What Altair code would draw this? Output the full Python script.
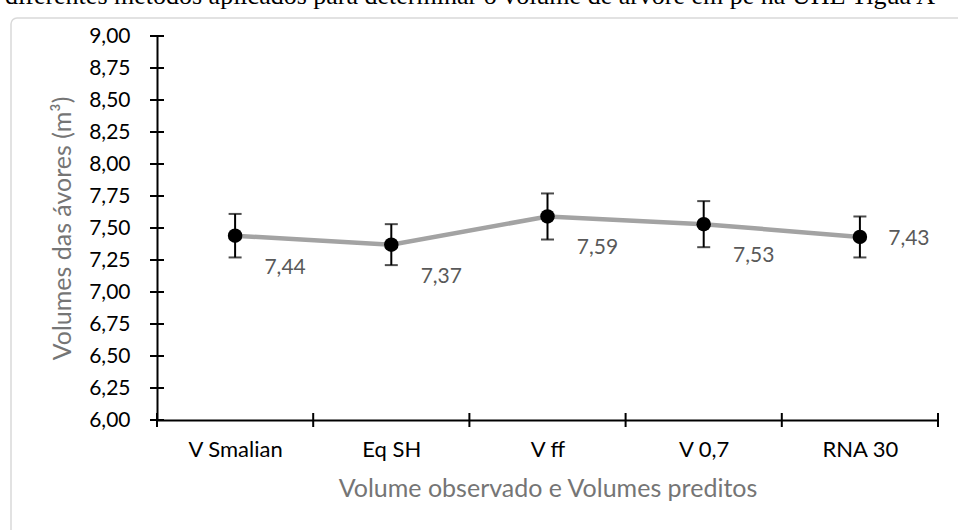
import altair as alt
import pandas as pd

categories = ["V Smalian", "Eq SH", "V ff", "V 0,7", "RNA 30"]
means = [7.44, 7.37, 7.59, 7.53, 7.43]
errors = [0.17, 0.16, 0.18, 0.18, 0.16]
labels = ["7,44", "7,37", "7,59", "7,53", "7,43"]
y_ticks = [6.0, 6.25, 6.5, 6.75, 7.0, 7.25, 7.5, 7.75, 8.0, 8.25, 8.5, 8.75, 9.0]
x_edges = [0, 1, 2, 3, 4, 5]
caption = "diferentes métodos aplicados para determinar o volume de árvore em pé na UHE Tiguá A"

W, H = 781, 384
TOP, LEFT = 36, 157
FONT = "Lato"

df = pd.DataFrame({
    "cat": categories,
    "pos": [i + 0.5 for i in range(len(categories))],
    "mean": means,
    "err": errors,
    "label": labels,
})
df["lo"] = df["mean"] - df["err"]
df["hi"] = df["mean"] + df["err"]

label_arr = "[" + ",".join("'" + c + "'" for c in categories) + "]"

xscale = alt.Scale(domain=[0, 5], nice=False, zero=False)
yscale = alt.Scale(domain=[6, 9], nice=False, zero=False)

xaxis = alt.Axis(
    values=[i + 0.5 for i in range(len(categories))],
    labelExpr=label_arr + "[floor(datum.value)]",
    labelOverlap=False,
    ticks=False, tickSize=0, grid=False, zindex=1,
    domainColor="black", domainWidth=2,
    labelFont=FONT, labelFontSize=22, labelColor="black", labelPadding=19,
    title="Volume observado e Volumes preditos",
    titleFont=FONT, titleFontSize=25, titleFontWeight="normal", titleColor="#757575",
    titlePadding=16,
)
yaxis = alt.Axis(
    values=y_ticks,
    labelExpr="replace(format(datum.value, '.2f'), '.', ',')",
    labelOverlap=False,
    ticks=False, tickSize=0, grid=False, zindex=1,
    domainColor="black", domainWidth=2,
    labelFont=FONT, labelFontSize=21, labelColor="black", labelPadding=27,
    title="Volumes das ávores (m³)",
    titleFont=FONT, titleFontSize=25, titleFontWeight="normal", titleColor="#757575",
    titlePadding=13,
)

X = lambda f: alt.X(f, scale=xscale, axis=xaxis)
Y = lambda f: alt.Y(f, scale=yscale, axis=yaxis)

base = alt.Chart(df)

frame = alt.Chart(pd.DataFrame({"a": [0]})).mark_rect(
    fill="white", stroke="#d9d9d9", strokeWidth=1.5, cornerRadius=6
).encode(
    x=alt.value(11 - LEFT), x2=alt.value(W + 40),
    y=alt.value(18 - TOP), y2=alt.value(H + 150),
)

top_text = alt.Chart(pd.DataFrame({"t": [caption]})).mark_text(
    font="Liberation Serif", fontSize=26, align="left", baseline="alphabetic", color="black"
).encode(
    x=alt.value(5 - LEFT), y=alt.value(4 - TOP), text="t:N"
)

line = base.mark_line(color="#a3a3a3", strokeWidth=4.5).encode(
    x=X("pos:Q"), y=Y("mean:Q")
)

err = base.mark_rule(color="black", strokeWidth=2).encode(
    x=X("pos:Q"), y=Y("lo:Q"), y2="hi:Q"
)
cap_lo = base.mark_tick(color="black", thickness=2, size=13, orient="horizontal").encode(
    x=X("pos:Q"), y=Y("lo:Q")
)
cap_hi = base.mark_tick(color="black", thickness=2, size=13, orient="horizontal").encode(
    x=X("pos:Q"), y=Y("hi:Q")
)

points = base.mark_circle(color="black", opacity=1, size=210).encode(
    x=X("pos:Q"), y=Y("mean:Q")
)

lab_below = base.transform_filter(alt.datum.cat != categories[-1]).mark_text(
    font=FONT, fontSize=21, color="#595959", dx=50, dy=32
).encode(x=X("pos:Q"), y=Y("mean:Q"), text="label:N")
lab_right = base.transform_filter(alt.datum.cat == categories[-1]).mark_text(
    font=FONT, fontSize=21, color="#595959", dx=49, dy=2
).encode(x=X("pos:Q"), y=Y("mean:Q"), text="label:N")

xt = alt.Chart(pd.DataFrame({"e": x_edges})).mark_rule(color="black", strokeWidth=2).encode(
    x=X("e:Q"), y=alt.value(H - 7), y2=alt.value(H + 7)
)
yt = alt.Chart(pd.DataFrame({"v": y_ticks})).mark_rule(color="black", strokeWidth=2).encode(
    y=Y("v:Q"), x=alt.value(-7), x2=alt.value(7)
)

chart = alt.layer(
    frame, top_text, line, err, cap_lo, cap_hi, points, lab_below, lab_right, xt, yt
).properties(
    width=W, height=H,
    autosize=alt.AutoSizeParams(type="none"),
    padding={"left": LEFT, "top": TOP, "right": 958 - LEFT - W, "bottom": 530 - TOP - H},
).configure_view(stroke=None).configure(background="white")

chart.save("out.html", embed_options={"renderer": "svg", "actions": False})
